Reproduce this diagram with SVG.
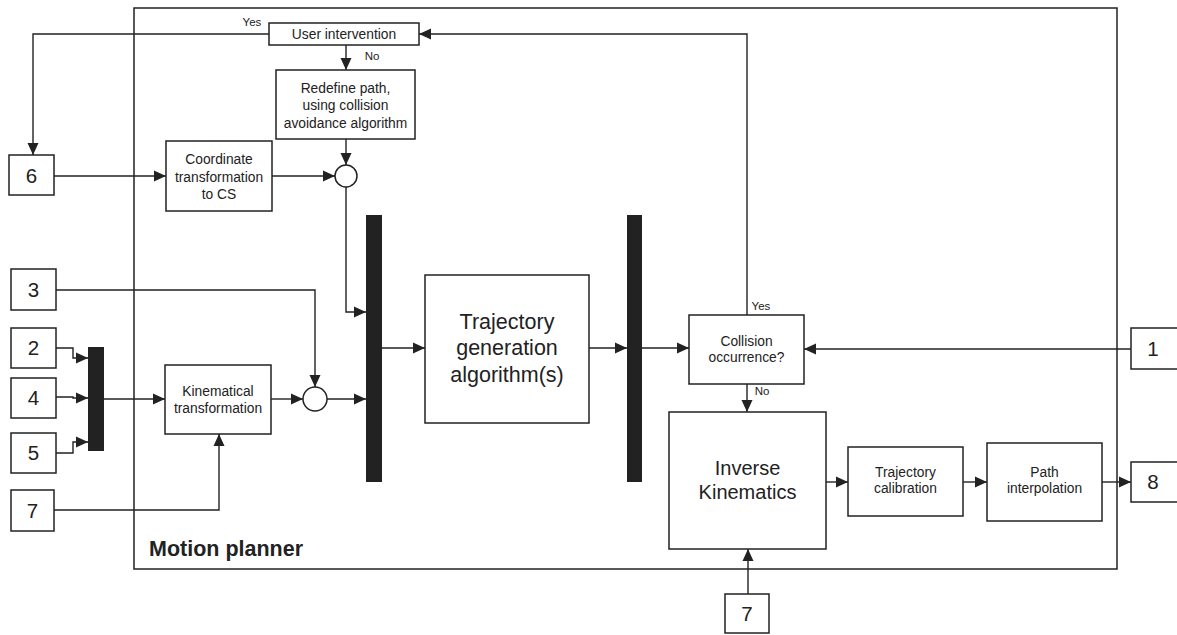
<svg xmlns="http://www.w3.org/2000/svg" width="1177" height="635" viewBox="0 0 1177 635">
<style>
.b{fill:#fff;stroke:#222;stroke-width:1.5}
.bar{fill:#222;stroke:none}
.c{fill:none;stroke:#222;stroke-width:1.4}
text{font-family:"Liberation Sans",Arial,sans-serif;fill:#222;text-anchor:middle}
.n{font-size:20.5px}
.m{font-size:13.8px}
.s{font-size:11.5px}
.l{font-size:21.5px}
</style>
<defs>
<marker id="a" viewBox="0 0 12 12" refX="12" refY="6" markerWidth="12" markerHeight="12" markerUnits="userSpaceOnUse" orient="auto">
<path d="M0,0.5 L12,6 L0,11.5 z" fill="#222"/>
</marker>
</defs>
<g id="motion-planner">
<rect x="134" y="8" width="983" height="561" fill="none" stroke="#222" stroke-width="1.5"/>
<text x="149" y="556" style="font-size:21.5px;font-weight:bold;text-anchor:start" textLength="154" lengthAdjust="spacingAndGlyphs">Motion planner</text>
</g>
<g id="connectors">
<path class="c" d="M747,315 L747,34 L419,34" marker-end="url(#a)"/>
<path class="c" d="M269,34 L33,34 L33,155" marker-end="url(#a)"/>
<path class="c" d="M346,45 L346,70" marker-end="url(#a)"/>
<path class="c" d="M346,139 L346,165" marker-end="url(#a)"/>
<path class="c" d="M54,176 L166,176" marker-end="url(#a)"/>
<path class="c" d="M272,176 L335,176" marker-end="url(#a)"/>
<path class="c" d="M346,187 L346,312 L366,312" marker-end="url(#a)"/>
<path class="c" d="M56,290 L315,290 L315,387" marker-end="url(#a)"/>
<path class="c" d="M56,348 L73,348 L73,358 L88,358" marker-end="url(#a)"/>
<path class="c" d="M56,397 L73,397 L73,398 L88,398" marker-end="url(#a)"/>
<path class="c" d="M56,453 L73,453 L73,442 L88,442" marker-end="url(#a)"/>
<path class="c" d="M104,399 L165,399" marker-end="url(#a)"/>
<path class="c" d="M271,399 L303,399" marker-end="url(#a)"/>
<path class="c" d="M327,399 L366,399" marker-end="url(#a)"/>
<path class="c" d="M54,510 L219,510 L219,434" marker-end="url(#a)"/>
<path class="c" d="M382,348 L425,348" marker-end="url(#a)"/>
<path class="c" d="M589,348 L627,348" marker-end="url(#a)"/>
<path class="c" d="M642,348 L689,348" marker-end="url(#a)"/>
<path class="c" d="M1131,349 L804,349" marker-end="url(#a)"/>
<path class="c" d="M747,384 L747,412" marker-end="url(#a)"/>
<path class="c" d="M748,594 L748,549" marker-end="url(#a)"/>
<path class="c" d="M826,482 L848,482" marker-end="url(#a)"/>
<path class="c" d="M963,482 L987,482" marker-end="url(#a)"/>
<path class="c" d="M1102,482 L1131,482" marker-end="url(#a)"/>
<text class="s" x="252" y="26">Yes</text>
<text class="s" x="372" y="60">No</text>
<text class="s" x="761" y="310">Yes</text>
<text class="s" x="762" y="395">No</text>
</g>
<g id="user-intervention"><rect class="b" x="269" y="23" width="150" height="22"/><text class="m" x="344" y="39">User intervention</text></g>
<g id="redefine-path"><rect class="b" x="276" y="70" width="139" height="69"/>
<text class="m" x="345.5" y="93">Redefine path,</text><text class="m" x="345.5" y="110">using collision</text><text class="m" x="345.5" y="128">avoidance algorithm</text></g>
<g id="box-6"><rect class="b" x="9" y="155" width="45" height="40"/><text class="n" x="31.5" y="182.5">6</text></g>
<g id="coordinate-transformation"><rect class="b" x="166" y="141" width="106" height="70"/>
<text class="m" x="219" y="164">Coordinate</text><text class="m" x="219" y="182">transformation</text><text class="m" x="219" y="199">to CS</text></g>
<g id="sum-1"><circle class="b" cx="346" cy="176" r="11"/></g>
<g id="box-3"><rect class="b" x="11" y="269" width="45" height="41"/><text class="n" x="33.5" y="297">3</text></g>
<g id="box-2"><rect class="b" x="11" y="328" width="45" height="40"/><text class="n" x="33.5" y="355">2</text></g>
<g id="box-4"><rect class="b" x="11" y="378" width="45" height="40"/><text class="n" x="33.5" y="405">4</text></g>
<g id="box-5"><rect class="b" x="11" y="433" width="45" height="40"/><text class="n" x="33.5" y="460">5</text></g>
<g id="box-7a"><rect class="b" x="11" y="490" width="43" height="41"/><text class="n" x="32.5" y="518">7</text></g>
<g id="mux-small"><rect class="bar" x="88" y="347" width="16" height="104"/></g>
<g id="kinematical-transformation"><rect class="b" x="165" y="365" width="106" height="69"/>
<text class="m" x="218" y="396">Kinematical</text><text class="m" x="218" y="413">transformation</text></g>
<g id="sum-2"><circle class="b" cx="315" cy="399" r="12"/></g>
<g id="mux-1"><rect class="bar" x="366" y="215" width="16" height="267"/></g>
<g id="trajectory-generation"><rect class="b" x="425" y="275" width="164" height="148"/>
<text class="l" x="507" y="329">Trajectory</text><text class="l" x="507" y="355">generation</text><text class="l" x="507" y="382">algorithm(s)</text></g>
<g id="mux-2"><rect class="bar" x="627" y="215" width="15" height="267"/></g>
<g id="collision-occurrence"><rect class="b" x="689" y="315" width="115" height="69"/>
<text class="m" x="746.5" y="346">Collision</text><text class="m" x="746.5" y="362">occurrence?</text></g>
<g id="box-1"><rect class="b" x="1131" y="328" width="60" height="41"/><text class="n" x="1153" y="356">1</text></g>
<g id="inverse-kinematics"><rect class="b" x="669" y="412" width="157" height="137"/>
<text style="font-size:20px" x="747.5" y="475">Inverse</text><text style="font-size:20px" x="747.5" y="499">Kinematics</text></g>
<g id="trajectory-calibration"><rect class="b" x="848" y="447" width="115" height="69"/>
<text class="m" x="905.5" y="477">Trajectory</text><text class="m" x="905.5" y="493">calibration</text></g>
<g id="path-interpolation"><rect class="b" x="987" y="443" width="115" height="78"/>
<text class="m" x="1044.5" y="477">Path</text><text class="m" x="1044.5" y="493">interpolation</text></g>
<g id="box-8"><rect class="b" x="1131" y="462" width="60" height="40"/><text class="n" x="1153" y="489">8</text></g>
<g id="box-7b"><rect class="b" x="725" y="594" width="44" height="39"/><text class="n" x="747" y="621">7</text></g>
</svg>
